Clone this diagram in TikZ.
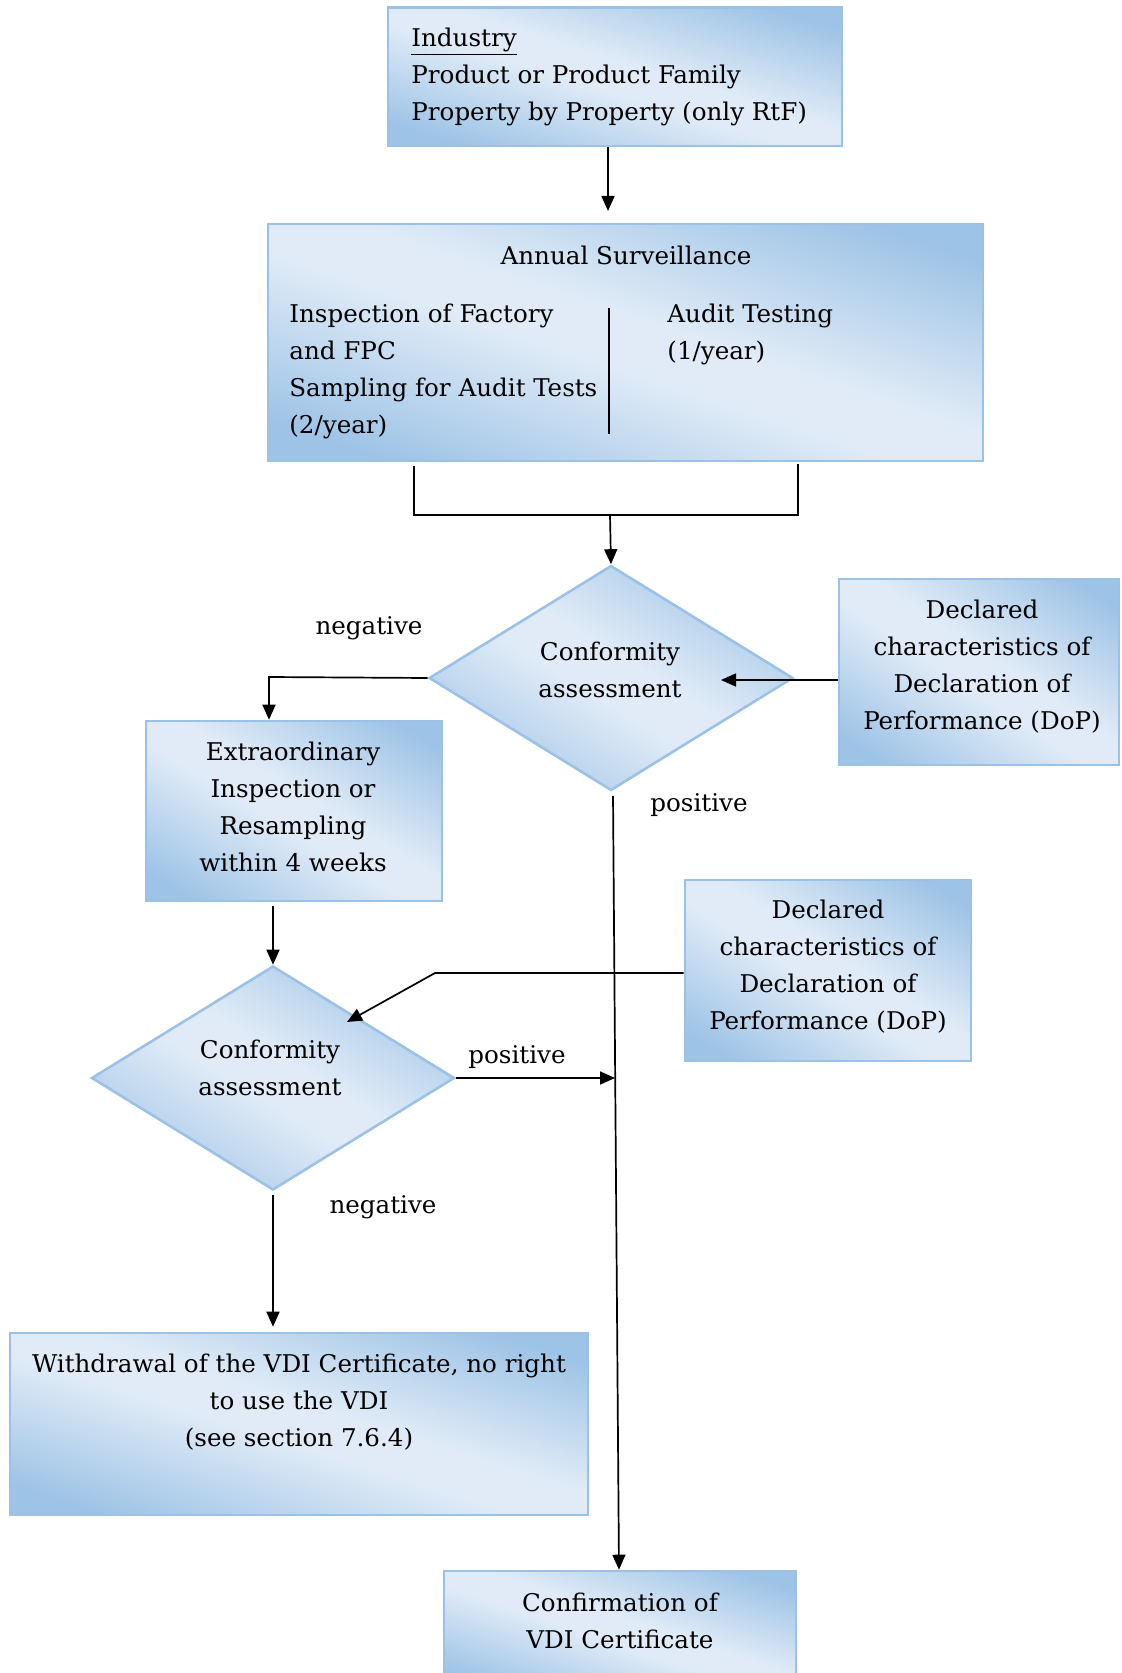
\documentclass[tikz,border=0pt]{standalone}
\usepackage{fontspec}
\setmainfont[FakeStretch=1.12]{DejaVu Serif Condensed}
\usetikzlibrary{arrows.meta,shapes.geometric,calc}
\definecolor{dkb}{RGB}{157,195,230}
\definecolor{ltb}{RGB}{224,235,247}
\definecolor{bdr}{RGB}{155,194,230}
\pgfdeclarehorizontalshading{boxshade}{100bp}{color(0bp)=(dkb); color(8bp)=(dkb); color(44bp)=(ltb); color(56bp)=(ltb); color(92bp)=(dkb); color(100bp)=(dkb)}
\newcommand\gradfill{%
  \path let \p1=($(path picture bounding box.north east)-(path picture bounding box.south west)$) in
    node[inner sep=0pt, outer sep=0pt, draw=none, fill=none] at (path picture bounding box.center)
    {\resizebox{\dimexpr\x1*2\relax}{\dimexpr\y1*2\relax}{\rotatebox{45}{\pgfuseshading{boxshade}}}};}
\begin{document}
\begin{tikzpicture}[x=0.5pt,y=-0.5pt,
 box/.style={draw=bdr, line width=1.3pt, path picture={\gradfill}, rectangle, inner sep=0pt},
 dia/.style={draw=bdr, line width=1.3pt, path picture={\gradfill}, diamond, inner sep=0pt},
 txt/.style={inner sep=0pt, font=\fontsize{12.2}{18.5}\selectfont},
 conn/.style={line width=0.85pt, -{Triangle[length=7.5pt,width=6.5pt]}},
 plain/.style={line width=0.85pt}]
\useasboundingbox (0,0) rectangle (1121,1673);
% boxes
\node[box, minimum width=227pt, minimum height=69.25pt] (b1) at (615,76.75) {};
\node[box, minimum width=357.5pt, minimum height=118.5pt] (b2) at (625.5,342.5) {};
\node[dia, minimum width=182pt, minimum height=112.5pt] (d1) at (611,678) {};
\node[box, minimum width=140pt, minimum height=93pt] (p1) at (979,672) {};
\node[box, minimum width=148pt, minimum height=90pt] (e1) at (294,811) {};
\node[box, minimum width=143pt, minimum height=90.5pt] (p2) at (828,970.5) {};
\node[dia, minimum width=181.5pt, minimum height=112pt] (d2) at (273,1078) {};
\node[box, minimum width=289pt, minimum height=91pt] (w1) at (299,1424) {};
\node[box, minimum width=176pt, minimum height=59.5pt] (c1) at (620,1630.5) {};
% texts
\node[txt, anchor=west, align=left] (t1) at (411,77) {\underline{Industry}\\Product or Product Family\\Property by Property (only RtF)};
\node[txt] (t2a) at (626,255) {Annual Surveillance};
\node[txt, anchor=west, align=left] (t2b) at (289,371) {Inspection of Factory\\and FPC\\Sampling for Audit Tests\\(2/year)};
\node[txt, anchor=west, align=left] (t2c) at (667,334) {Audit Testing\\(1/year)};
\node[txt, align=center] (td1) at (610,670) {Conformity\\assessment};
\node[txt, align=center] (tp1) at (982,667) {Declared\\characteristics of\\Declaration of\\Performance (DoP)};
\node[txt, align=center] (te1) at (293,807) {Extraordinary\\Inspection or\\Resampling\\within 4 weeks};
\node[txt, align=center] (td2) at (270,1068) {Conformity\\assessment};
\node[txt, align=center] (tp2) at (828,967) {Declared\\characteristics of\\Declaration of\\Performance (DoP)};
\node[txt, align=center] (tw) at (299,1402) {Withdrawal of the VDI Certificate, no right\\to use the VDI\\(see section 7.6.4)};
\node[txt, align=center] (tc) at (620,1621) {Confirmation of\\VDI Certificate};
\node[txt] (neg1) at (369,628) {negative};
\node[txt] (pos1) at (699,805) {positive};
\node[txt] (pos2) at (517,1057) {positive};
\node[txt] (neg2) at (383,1207) {negative};
% divider
\draw[line width=0.7pt] (609,308) -- (609,434);
% coordinates
\coordinate (a1) at (608,211);
\coordinate (bl) at (414,515);
\coordinate (br) at (798,515);
\coordinate (bm) at (610,515);
\coordinate (a4) at (721,680);
\coordinate (n1) at (269,677);
\coordinate (k) at (435,973);
\coordinate (a8) at (347,1022);
\coordinate (a9) at (615,1078);
% connectors
\draw[conn] (b1.south -| a1) -- (a1);
\draw[plain] ([yshift=-2pt]b2.south -| bl) -- (bl) -- (br) -- ([yshift=-1pt]b2.south -| br);
\draw[conn] (bm) -- (d1.north);
\draw[conn] (p1.west |- a4) -- (a4);
\draw[conn] (d1.west) -- (n1) -- (n1 |- e1.north);
\draw[conn] ([shift={(1pt,-2pt)}]d1.south) -- ([xshift=-0.5pt]c1.north);
\draw[conn] ([yshift=-2pt]e1.south -| d2.north) -- (d2.north);
\draw[conn] (p2.west |- k) -- (k) -- (a8);
\draw[conn] (d2.east) -- (a9);
\draw[conn] ([yshift=-2pt]d2.south) -- ([yshift=2.5pt]w1.north -| d2.south);
\end{tikzpicture}
\end{document}
